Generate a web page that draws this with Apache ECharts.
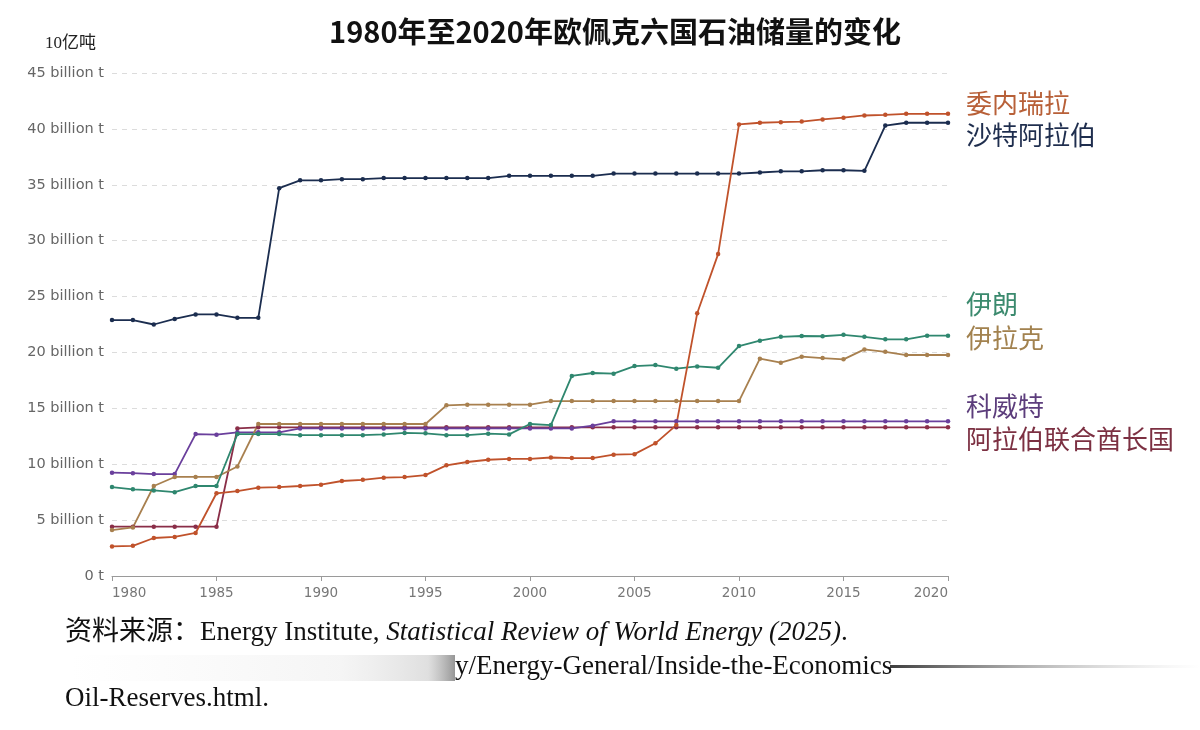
<!DOCTYPE html>
<html><head><meta charset="utf-8">
<script src="https://cdn.jsdelivr.net/npm/echarts@6/dist/echarts.min.js"></script>
<style>html,body{margin:0;padding:0;background:#fff}#c{width:1200px;height:730px}</style>
</head><body><div id="c"></div>
<script>
const years = [1980,1981,1982,1983,1984,1985,1986,1987,1988,1989,1990,1991,1992,1993,1994,1995,1996,1997,1998,1999,2000,2001,2002,2003,2004,2005,2006,2007,2008,2009,2010,2011,2012,2013,2014,2015,2016,2017,2018,2019,2020];
const venezuela = [2.65,2.7,3.4,3.5,3.85,7.4,7.6,7.9,7.96,8.05,8.17,8.5,8.6,8.8,8.85,9.03,9.9,10.2,10.4,10.47,10.47,10.6,10.55,10.55,10.85,10.9,11.87,13.5,23.5,28.8,40.4,40.55,40.6,40.65,40.85,41.0,41.2,41.26,41.35,41.35,41.35];
const saudi = [22.9,22.9,22.5,23.0,23.4,23.4,23.1,23.1,34.7,35.4,35.4,35.5,35.5,35.6,35.6,35.6,35.6,35.6,35.6,35.8,35.8,35.8,35.8,35.8,36.0,36.0,36.0,36.0,36.0,36.0,36.0,36.1,36.2,36.2,36.3,36.3,36.25,40.3,40.55,40.55,40.55];
const iran = [7.96,7.75,7.66,7.5,8.05,8.05,12.7,12.7,12.7,12.6,12.6,12.6,12.6,12.67,12.8,12.76,12.6,12.6,12.73,12.67,13.6,13.5,17.9,18.16,18.1,18.78,18.87,18.55,18.75,18.63,20.57,21.05,21.4,21.47,21.45,21.58,21.4,21.17,21.17,21.5,21.5];
const iraq = [4.11,4.35,8.05,8.86,8.86,8.86,9.8,13.6,13.6,13.6,13.6,13.6,13.6,13.6,13.6,13.6,15.27,15.33,15.33,15.33,15.33,15.65,15.65,15.65,15.65,15.65,15.65,15.65,15.65,15.65,15.65,19.44,19.08,19.62,19.5,19.38,20.27,20.06,19.77,19.77,19.77];
const kuwait = [9.24,9.2,9.12,9.12,12.7,12.64,12.85,12.85,12.85,13.2,13.2,13.2,13.2,13.2,13.2,13.2,13.2,13.2,13.2,13.2,13.2,13.2,13.2,13.45,13.84,13.84,13.84,13.84,13.84,13.84,13.84,13.84,13.84,13.84,13.84,13.84,13.84,13.84,13.84,13.84,13.84];
const uae = [4.41,4.41,4.41,4.41,4.41,4.41,13.2,13.3,13.3,13.3,13.3,13.3,13.3,13.3,13.3,13.3,13.3,13.3,13.3,13.3,13.3,13.3,13.3,13.3,13.3,13.3,13.3,13.3,13.3,13.3,13.3,13.3,13.3,13.3,13.3,13.3,13.3,13.3,13.3,13.3,13.3];
const names = ['委内瑞拉','沙特阿拉伯','伊朗','伊拉克','科威特','阿拉伯联合酋长国'];
const title = '1980年至2020年欧佩克六国石油储量的变化';
const unit = '10亿吨';
const yTicks = ['0 t','5 billion t','10 billion t','15 billion t','20 billion t','25 billion t','30 billion t','35 billion t','40 billion t','45 billion t'];
const source1a = '资料来源：Energy Institute, ';
const source1b = 'Statistical Review of World Energy (2025)';
const source2 = 'y/Energy-General/Inside-the-Economics';
const source3 = 'Oil-Reserves.html.';

const seriesData = [uae, kuwait, iraq, iran, saudi, venezuela];
const seriesNames = [names[5], names[4], names[3], names[2], names[1], names[0]];
const lineColors = ['#8a2e48','#6a3f9c','#a8804f','#2f876f','#1b2d4f','#c0522b'];
const labelColors = ['#b86038','#1f2e4e','#3b8a6e','#a2824f','#5c3d7c','#7c3042'];
const labelY = [105,137,306,340,408,441];

const chart = echarts.init(document.getElementById('c'));
const serif = '"Liberation Serif","DejaVu Serif","Noto Sans CJK SC",serif';
const graphics = names.map((n,i)=>({type:'text',left:966,top:labelY[i]-15,style:{text:n,fill:labelColors[i],font:'26px "Noto Sans CJK SC"'}}));
graphics.push({type:'text',left:45,top:35,style:{text:unit,fill:'#222',font:'17px '+serif}});
graphics.push({type:'rect',shape:{x:70,y:655,width:385,height:26},style:{fill:{type:'linear',x:0,y:0,x2:1,y2:0,colorStops:[{offset:0,color:'rgba(200,200,200,0)'},{offset:0.7,color:'rgba(190,190,190,0.15)'},{offset:0.93,color:'rgba(150,150,150,0.3)'},{offset:1,color:'rgba(80,80,80,0.6)'}]}}});
graphics.push({type:'rect',shape:{x:890,y:665,width:310,height:3},style:{fill:{type:'linear',x:0,y:0,x2:1,y2:0,colorStops:[{offset:0,color:'rgba(40,40,40,0.9)'},{offset:1,color:'rgba(180,180,180,0)'}]}}});
graphics.push({type:'text',left:65,top:619,style:{rich:{a:{fontFamily:'"Liberation Serif","Noto Sans CJK SC"',fontSize:27,fill:'#111'},b:{fontFamily:'"Liberation Serif"',fontStyle:'italic',fontSize:27,fill:'#111'}},text:'{a|'+source1a+'}{b|'+source1b+'}{a|.}'}});
graphics.push({type:'text',left:455,top:653,style:{text:source2,fill:'#111',font:'27px "Liberation Serif"'}});
graphics.push({type:'text',left:65,top:685,style:{text:source3,fill:'#111',font:'27px "Liberation Serif"'}});

chart.setOption({
  backgroundColor:'#fff',
  animation:false,
  title:{text:title,left:610,top:12,textAlign:'center',textStyle:{fontFamily:'"Noto Sans CJK SC"',fontWeight:'bold',fontSize:29,color:'#111'}},
  grid:{left:112,right:252,top:73,bottom:154},
  xAxis:{type:'value',min:1980,max:2020,interval:5,
    axisLine:{lineStyle:{color:'#9a9a9a'}},
    axisTick:{show:true,length:5,lineStyle:{color:'#9a9a9a'}},
    splitLine:{show:false},
    axisLabel:{formatter:v=>String(v),color:'#777',fontSize:13.5,fontFamily:'"DejaVu Sans","Liberation Sans"',margin:10,alignMinLabel:'left',alignMaxLabel:'right'}},
  yAxis:{type:'value',min:0,max:45,interval:5,
    axisLine:{show:false},axisTick:{show:false},
    splitLine:{lineStyle:{color:'#dcdcdc',type:[5,5]}},
    axisLabel:{formatter:v=>yTicks[Math.round(v/5)],color:'#666',fontSize:14.5,fontFamily:'"DejaVu Sans","Liberation Sans"',margin:8}},
  series:seriesData.map((d,i)=>({name:seriesNames[i],type:'line',data:years.map((y,k)=>[y,d[k]]),
    symbol:'circle',symbolSize:4.5,showSymbol:true,
    lineStyle:{width:1.8,color:lineColors[i]},itemStyle:{color:lineColors[i]}})),
  graphic:graphics
});
</script></body></html>
